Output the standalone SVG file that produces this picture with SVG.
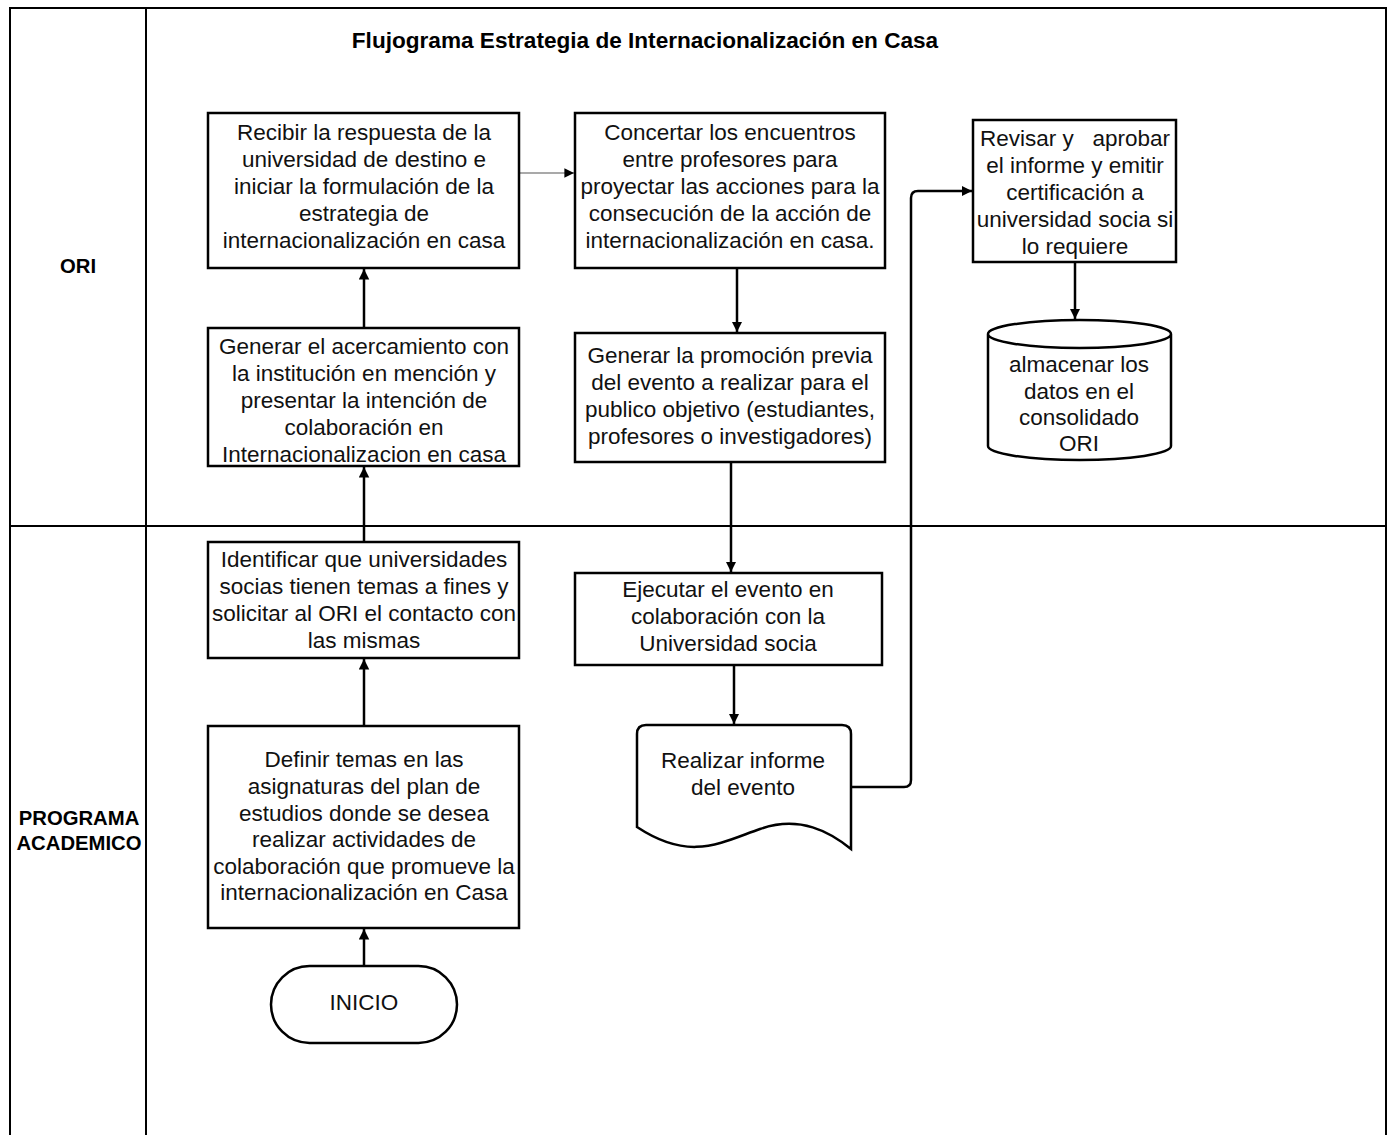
<svg xmlns="http://www.w3.org/2000/svg" width="1392" height="1135" viewBox="0 0 1392 1135">
<style>
.lane{fill:none;stroke:#000;stroke-width:2}
.box{fill:#fff;stroke:#000;stroke-width:2.5}
.t{font-family:"Liberation Sans",Arial,sans-serif;font-size:22.5px;fill:#111;text-anchor:middle}
.b{font-family:"Liberation Sans",Arial,sans-serif;font-size:20.3px;font-weight:bold;fill:#000;text-anchor:middle}
.ti{font-family:"Liberation Sans",Arial,sans-serif;font-size:22.6px;font-weight:bold;fill:#000;text-anchor:middle}
.c{fill:none;stroke:#000;stroke-width:2.5}
.thin{fill:none;stroke:#555;stroke-width:1.2}
</style>
<defs>
<marker id="ah" viewBox="0 0 10 10" refX="10" refY="5" markerWidth="4.2" markerHeight="4.4" orient="auto" markerUnits="strokeWidth">
<path d="M0,0 L10,5 L0,10 z" fill="#000"/>
</marker>
<marker id="ahs" viewBox="0 0 10 10" refX="10" refY="5" markerWidth="9" markerHeight="8" orient="auto" markerUnits="strokeWidth">
<path d="M0,0 L10,5 L0,10 z" fill="#000"/>
</marker>
</defs>
<rect width="1392" height="1135" fill="#fff"/>
<g id="lanes">
<path class="lane" d="M10,1136 V8 H1386 V1136"/>
<line class="lane" x1="146" y1="8" x2="146" y2="1136"/>
<line class="lane" x1="10" y1="526" x2="1386" y2="526"/>
<text class="ti" x="645" y="48">Flujograma Estrategia de Internacionalización en Casa</text>
<text class="b" x="78" y="273">ORI</text>
<text class="b" x="79" y="825">PROGRAMA</text>
<text class="b" x="79" y="850">ACADEMICO</text>
</g>
<g id="connectors">
<line class="c" x1="364" y1="966" x2="364" y2="929" marker-end="url(#ah)"/>
<line class="c" x1="364" y1="726" x2="364" y2="659" marker-end="url(#ah)"/>
<line class="c" x1="364" y1="542" x2="364" y2="467" marker-end="url(#ah)"/>
<line class="c" x1="364" y1="328" x2="364" y2="269" marker-end="url(#ah)"/>
<line class="thin" x1="519" y1="173" x2="574" y2="173" marker-end="url(#ahs)"/>
<line class="c" x1="737" y1="268" x2="737" y2="332" marker-end="url(#ah)"/>
<line class="c" x1="731" y1="462" x2="731" y2="572" marker-end="url(#ah)"/>
<line class="c" x1="734" y1="665" x2="734" y2="724" marker-end="url(#ah)"/>
<path class="c" d="M851,787 H904 Q911,787 911,780 V198 Q911,191 918,191 H972" marker-end="url(#ah)"/>
<line class="c" x1="1075" y1="262" x2="1075" y2="319" marker-end="url(#ah)"/>
</g>
<g id="recibir">
<rect class="box" x="208" y="113" width="311" height="155"/>
<text class="t" x="364" y="140">Recibir la respuesta de la</text>
<text class="t" x="364" y="167">universidad de destino e</text>
<text class="t" x="364" y="194">iniciar la formulación de la</text>
<text class="t" x="364" y="221">estrategia de</text>
<text class="t" x="364" y="248">internacionalización en casa</text>
</g>
<g id="concertar">
<rect class="box" x="575" y="113" width="310" height="155"/>
<text class="t" x="730" y="140">Concertar los encuentros</text>
<text class="t" x="730" y="167">entre profesores para</text>
<text class="t" x="730" y="194">proyectar las acciones para la</text>
<text class="t" x="730" y="221">consecución de la acción de</text>
<text class="t" x="730" y="248">internacionalización en casa.</text>
</g>
<g id="revisar">
<rect class="box" x="973" y="120" width="203" height="142"/>
<text class="t" x="1075" y="146" xml:space="preserve">Revisar y   aprobar</text>
<text class="t" x="1075" y="173">el informe y emitir</text>
<text class="t" x="1075" y="200">certificación a</text>
<text class="t" x="1075" y="227">universidad socia si</text>
<text class="t" x="1075" y="254">lo requiere</text>
</g>
<g id="almacenar">
<path class="box" d="M988,334 V446 A91.5,14 0 0 0 1171,446 V334 A91.5,14 0 0 0 988,334 A91.5,14 0 0 0 1171,334"/>
<text class="t" x="1079" y="372">almacenar los</text>
<text class="t" x="1079" y="399">datos en el</text>
<text class="t" x="1079" y="425">consolidado</text>
<text class="t" x="1079" y="451">ORI</text>
</g>
<g id="acercamiento">
<rect class="box" x="208" y="328" width="311" height="138"/>
<text class="t" x="364" y="354">Generar el acercamiento con</text>
<text class="t" x="364" y="381">la institución en mención y</text>
<text class="t" x="364" y="408">presentar la intención de</text>
<text class="t" x="364" y="435">colaboración en</text>
<text class="t" x="364" y="462">Internacionalizacion en casa</text>
</g>
<g id="promocion">
<rect class="box" x="575" y="333" width="310" height="129"/>
<text class="t" x="730" y="363">Generar la promoción previa</text>
<text class="t" x="730" y="390">del evento a realizar para el</text>
<text class="t" x="730" y="417">publico objetivo (estudiantes,</text>
<text class="t" x="730" y="444">profesores o investigadores)</text>
</g>
<g id="identificar">
<rect class="box" x="208" y="542" width="311" height="116"/>
<text class="t" x="364" y="567">Identificar que universidades</text>
<text class="t" x="364" y="594">socias tienen temas a fines y</text>
<text class="t" x="364" y="621">solicitar al ORI el contacto con</text>
<text class="t" x="364" y="648">las mismas</text>
</g>
<g id="ejecutar">
<rect class="box" x="575" y="573" width="307" height="92"/>
<text class="t" x="728" y="597">Ejecutar el evento en</text>
<text class="t" x="728" y="624">colaboración con la</text>
<text class="t" x="728" y="651">Universidad socia</text>
</g>
<g id="informe">
<path class="box" d="M637,827 V734 Q637,725 646,725 H842 Q851,725 851,734 V849 C830,832 800,815 760,829 C720,843 690,862 637,827 Z"/>
<text class="t" x="743" y="768">Realizar informe</text>
<text class="t" x="743" y="795">del evento</text>
</g>
<g id="definir">
<rect class="box" x="208" y="726" width="311" height="202"/>
<text class="t" x="364" y="767">Definir temas en las</text>
<text class="t" x="364" y="794">asignaturas del plan de</text>
<text class="t" x="364" y="821">estudios donde se desea</text>
<text class="t" x="364" y="847">realizar actividades de</text>
<text class="t" x="364" y="874">colaboración que promueve la</text>
<text class="t" x="364" y="900">internacionalización en Casa</text>
</g>
<g id="inicio">
<rect class="box" x="271" y="966" width="186" height="77" rx="38.5" ry="38.5"/>
<text class="t" x="364" y="1010">INICIO</text>
</g>
</svg>
